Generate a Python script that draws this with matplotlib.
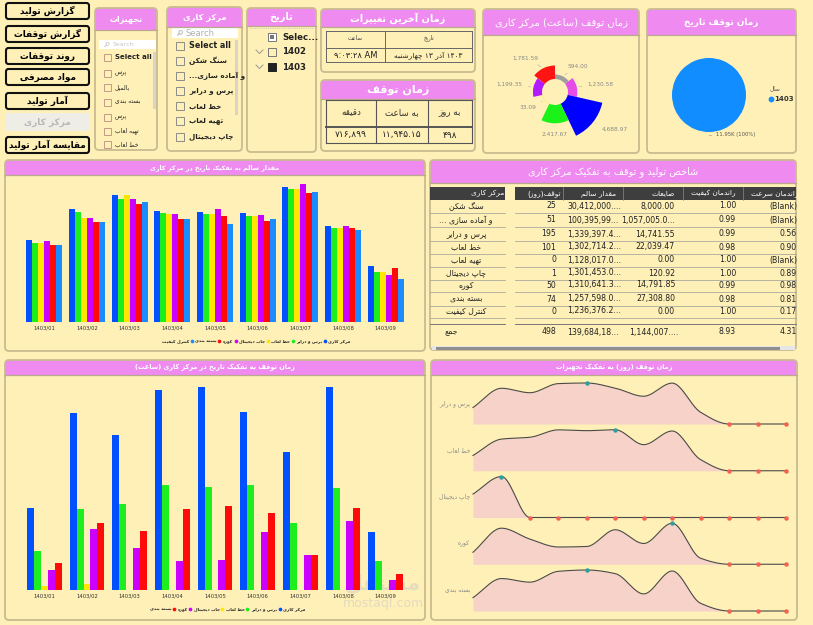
import re
import numpy as np
import matplotlib.pyplot as plt
from matplotlib.patches import FancyBboxPatch, Rectangle, Circle

# ---------------- data ----------------
months = ['1403/01', '1403/02', '1403/03', '1403/04', '1403/05',
          '1403/06', '1403/07', '1403/08', '1403/09']

good_names = ['پرس و درایر', 'خط لعاب', 'چاپ دیجیتال', 'کوره', 'بسته بندی', 'کنترل کیفیت']
good_press = [117300, 161000, 181500, 158200, 156300, 154900, 192400, 137300, 79800]
good_glaze = [113050, 157200, 175750, 154850, 153400, 151500, 190000, 134400, 71250]
good_digital = [113050, 148700, 181450, 154400, 153400, 151500, 190000, 134400, 71250]
good_kiln = [114950, 148700, 175750, 153900, 161500, 152950, 197100, 137300, 66950]
good_pack = [109700, 142500, 168150, 147250, 150600, 143450, 184300, 133950, 76950]
good_qc = [110200, 143000, 171500, 146300, 140100, 146300, 185700, 130600, 61750]

stop_names = ['پرس و درایر', 'خط لعاب', 'چاپ دیجیتال', 'کوره', 'بسته بندی']
stop_press = [275, 596, 522, 674, 684, 598, 463, 682, 195]
stop_glaze = [132, 274, 290, 354, 347, 355, 226, 344, 96]
stop_digital = [12, 21, 0, 0, 0, 0, 0, 0, 0]
stop_kiln = [68, 205, 143, 98, 101, 196, 118, 233, 34]
stop_pack = [92, 224, 199, 274, 283, 258, 118, 276, 53]
stop_late_months = [0, 0, 0]          # 1403/10 .. 1403/12

rose_names = ['سنگ شکن', 'و آماده سازی', 'پرس و درایر', 'خط لعاب', 'چاپ دیجیتال', 'کوره', 'بسته بندی']
rose_values = [594.00, 1230.58, 4688.97, 2417.67, 33.09, 1199.35, 1781.59]

pie_years = ['1403']
pie_values = [11945.15]

tbl_cols = ['مرکز کاری', 'توقف(روز)', 'مقدار سالم', 'ضایعات', 'راندمان کیفیت', 'راندمان سرعت']
tbl_centers = ['سنگ شکن', 'و آماده سازی ...', 'پرس و درایر', 'خط لعاب', 'تهیه لعاب',
               'چاپ دیجیتال', 'کوره', 'بسته بندی', 'کنترل کیفیت']
tbl_days = [25, 51, 195, 101, 0, 1, 50, 74, 0]
tbl_good = ['30,412,000....', '100,395,99...', '1,339,397.4...', '1,302,714.2...', '1,128,017.0...',
            '1,301,453.0...', '1,310,641.3...', '1,257,598.0...', '1,236,376.2...']
tbl_waste = ['8,000.00', '1,057,005.0...', '14,741.55', '22,039.47', '0.00',
             '120.92', '14,791.85', '27,308.80', '0.00']
tbl_qeff = ['1.00', '0.99', '0.99', '0.98', '1.00', '1.00', '0.99', '0.98', '1.00']
tbl_seff = ['(Blank)', '(Blank)', '0.56', '0.90', '(Blank)', '0.89', '0.98', '0.81', '0.17']
tbl_total = ['جمع', '498', '139,684,18...', '1,144,007....', '8.93', '4.31']

nav_labels = ['گزارش تولید', 'گزارش توقفات', 'روند توقفات', 'مواد مصرفی',
              'آمار تولید', 'مرکز کاری', 'مقایسه آمار تولید']
equip_items = ['Select all', 'پرس', 'بالمیل', 'بسته بندی', 'پرس', 'تهیه لعاب', 'خط لعاب']
center_items = ['Select all', 'سنگ شکن', 'و آماده سازی...', 'پرس و درایر', 'خط لعاب', 'تهیه لعاب', 'چاپ دیجیتال']
date_items = ['Selec...', '1402', '1403']

last_change_head = ['ساعت', 'تاریخ']
last_change_vals = ['۹:۰۳:۲۸ AM', 'چهارشنبه ۱۳ آذر ۱۴۰۳']
stop_card_head = ['دقیقه', 'به ساعت', 'به روز']
stop_card_vals = ['۷۱۶,۸۹۹', '۱۱,۹۴۵.۱۵', '۴۹۸']

# ---------------- persian shaping (no reshaper lib available) ----------------
AR = {'ا': (0xFE8D, 0), 'آ': (0xFE81, 0), 'ب': (0xFE8F, 1), 'پ': (0xFB56, 1), 'ت': (0xFE95, 1),
      'ث': (0xFE99, 1), 'ج': (0xFE9D, 1), 'چ': (0xFB7A, 1), 'ح': (0xFEA1, 1), 'خ': (0xFEA5, 1),
      'د': (0xFEA9, 0), 'ذ': (0xFEAB, 0), 'ر': (0xFEAD, 0), 'ز': (0xFEAF, 0), 'ژ': (0xFB8A, 0),
      'س': (0xFEB1, 1), 'ش': (0xFEB5, 1), 'ص': (0xFEB9, 1), 'ض': (0xFEBD, 1), 'ط': (0xFEC1, 1),
      'ظ': (0xFEC5, 1), 'ع': (0xFEC9, 1), 'غ': (0xFECD, 1), 'ف': (0xFED1, 1), 'ق': (0xFED5, 1),
      'ک': (0xFB8E, 1), 'گ': (0xFB92, 1), 'ل': (0xFEDD, 1), 'م': (0xFEE1, 1), 'ن': (0xFEE5, 1),
      'و': (0xFEED, 0), 'ه': (0xFEE9, 1), 'ی': (0xFBFC, 1)}
LTR_RUN = re.compile(r'[0-9A-Za-z\u06F0-\u06F9.,:%]+')


def shape(s):
    out, i = [], 0
    while i < len(s):
        c = s[i]
        prev = i > 0 and s[i - 1] in AR and AR[s[i - 1]][1] == 1
        if c == 'ل' and i + 1 < len(s) and s[i + 1] in 'اآ':
            base = 0xFEFB if s[i + 1] == 'ا' else 0xFEF5
            out.append(chr(base + (1 if prev else 0)))
            i += 2
            continue
        if c in AR:
            base, dual = AR[c]
            nxt = dual and i + 1 < len(s) and s[i + 1] in AR
            if dual:
                k = 3 if prev and nxt else 2 if nxt else 1 if prev else 0
            else:
                k = 1 if prev else 0
            out.append(chr(base + k))
        else:
            out.append(c)
        i += 1
    return ''.join(out)


def fa(s, rtl=True):
    if not any(ch in AR for ch in s):
        return s
    if not rtl:
        return ' '.join(fa(w) for w in s.split(' '))
    v = shape(s)[::-1].translate(str.maketrans('()', ')('))
    return LTR_RUN.sub(lambda m: m.group(0)[::-1], v)


# ---------------- figure ----------------
BG = '#FEF0B6'
PINK = '#EF8AF0'
EDGE = '#C9BB90'
plt.rcParams['font.family'] = ['DejaVu Sans']

fig = plt.figure(figsize=(8.13, 6.25), dpi=100, facecolor=BG)
bg = fig.add_axes([0, 0, 1, 1], zorder=0)
bg.set_xlim(0, 813)
bg.set_ylim(625, 0)
bg.axis('off')
renderer = fig.canvas.get_renderer()


def px_axes(x, y, w, h, **kw):
    a = fig.add_axes([x / 813, 1 - (y + h) / 625, w / 813, h / 625], zorder=2, **kw)
    a.patch.set_alpha(0)
    return a


def txt(x, y, s, size=6, color='#222222', ha='center', weight='normal', rtl=True, **kw):
    return bg.text(x, y, fa(s, rtl), fontsize=size, color=color, ha=ha, va='center',
                   fontweight=weight, **kw)


def panel(x, y, w, h, title, hh, size=7, weight='bold', r=4, ty=None):
    bs = f'round,pad=0,rounding_size={r}'
    bg.add_patch(FancyBboxPatch((x, y), w, h, boxstyle=bs, fc=PINK, ec='none'))
    bg.add_patch(FancyBboxPatch((x, y + hh), w, h - hh, boxstyle=bs, fc=BG, ec='none'))
    bg.add_patch(Rectangle((x, y + hh), w, r + 1, fc=BG, ec='none'))
    bg.plot([x, x + w], [y + hh, y + hh], color='#BBA98C', lw=0.9)
    bg.add_patch(FancyBboxPatch((x, y), w, h, boxstyle=bs, fc='none', ec=EDGE, lw=1.3))
    txt(x + w / 2, ty if ty else y + hh / 2, title, size=size, color='white', weight=weight)


def rtl_legend(left, y, title, names, colors, size=3.1):
    # power bi rtl legend: last item on the left, title on the far right
    xcur = left
    for name, col in reversed(list(zip(names, colors))):
        t = txt(xcur, y, name, size=size, ha='left', weight='bold')
        xcur += t.get_window_extent(renderer).width + 2.5
        bg.scatter([xcur], [y], s=7, color=col, zorder=3, lw=0)
        xcur += 3.5
    txt(xcur, y, title, size=size, ha='left', weight='bold')


def magnifier(x, y, r=1.8, color='#B0B0B0'):
    bg.add_patch(Circle((x + 0.6, y - 0.6), r, fc='none', ec=color, lw=0.6))
    bg.plot([x - 0.7, x - 2.2], [y + 0.7, y + 2.2], color=color, lw=0.7)


# ---- nav buttons
nav_y = [3, 26, 48, 69, 93, 114, 137]
for i, (lab, y) in enumerate(zip(nav_labels, nav_y)):
    if i == 5:
        bg.add_patch(Rectangle((6, y - 1), 83, 18, fc='#EEEDE6', ec='none'))
        txt(47.5, y + 8, lab, size=6.4, color='#B8B8B8', weight='bold')
    else:
        bg.add_patch(FancyBboxPatch((6, y), 83, 16, boxstyle='round,pad=0,rounding_size=2.5',
                                    fc=BG, ec='#111111', lw=1.5))
        txt(47.5, y + 8, lab, size=6.4, color='black', weight='bold')

# ---- slicer: equipment
panel(95, 8, 62, 142, 'تجهیزات', 22, size=5.8)
bg.add_patch(Rectangle((99, 40), 57, 9, fc='white', ec='none'))
magnifier(107, 44.5, r=1.5, color='#C8C8C8')
txt(113, 44.5, 'Search', size=4.5, color='#C8C8C8', ha='left')
bg.add_patch(Rectangle((153, 52), 2.5, 57, fc='#D9D4C4', ec='none'))
for lab, y in zip(equip_items, [57, 73, 87, 102, 117, 131, 144]):
    bg.add_patch(Rectangle((104, y - 3.5), 7, 7, fc='none', ec='#C49A86', lw=0.7))
    bold = 'bold' if lab == 'Select all' else 'normal'
    txt(115, y, lab, size=5 if bold == 'bold' else 4.3, ha='left', weight=bold, color='#222222')

# ---- slicer: work center
panel(167, 7, 75, 144, 'مرکز کاری', 20, size=6)
bg.add_patch(Rectangle((172, 28), 66, 10, fc='white', ec='none'))
magnifier(180, 33)
txt(185, 33, 'Search', size=6, color='#B0B0B0', ha='left')
bg.add_patch(Rectangle((235, 40), 2.5, 75, fc='#D9D4C4', ec='none'))
for lab, y in zip(center_items, [46, 61, 76, 91, 106, 121, 137]):
    bg.add_patch(Rectangle((176, y - 4), 8, 8, fc='none', ec='#8A8A8A', lw=0.7))
    txt(189, y, lab, size=5.8 if lab == 'Select all' else 5.2, ha='left', weight='bold')

# ---- slicer: date
panel(247, 8, 69, 144, 'تاریخ', 18, size=7)
bg.plot([250, 313], [28, 28], color='#BBBBBB', lw=0.6, ls=':')
for lab, y, k in zip(date_items, [37, 52, 67], range(3)):
    if k == 0:
        bg.add_patch(Rectangle((268, y - 4), 8, 8, fc='white', ec='#777777', lw=0.7))
        bg.add_patch(Rectangle((270, y - 2), 4, 4, fc='#777777', ec='none'))
    elif k == 1:
        bg.add_patch(Rectangle((268, y - 4), 8, 8, fc='none', ec='#777777', lw=0.7))
    else:
        bg.add_patch(Rectangle((268, y - 4), 8, 8, fc='#222222', ec='#222222', lw=0.7))
    if k > 0:
        bg.plot([256, 259.5, 263], [y - 2, y + 1.5, y - 2], color='#999999', lw=0.7)
    txt(282, y, lab, size=6.2, ha='left', weight='bold')

# ---- card: last change
panel(321, 9, 154, 63, 'زمان آخرین تغییرات', 18, size=7)
for yy in (31, 48, 62):
    bg.plot([326, 472], [yy, yy], color='#666666', lw=0.7)
for xx in (326, 385, 472):
    bg.plot([xx, xx], [31, 62], color='#666666', lw=0.7)
txt(355.5, 38, last_change_head[0], size=4, color='#444444')
txt(428.5, 38, last_change_head[1], size=4, color='#444444')
txt(355.5, 55, last_change_vals[0], size=6, color='#222222')
txt(428.5, 55.5, last_change_vals[1], size=5.3, color='#222222', rtl=False)

# ---- card: stop time
panel(321, 80, 154, 71, 'زمان توقف', 19, size=8)
for yy in (100, 127, 143):
    bg.plot([326, 472], [yy, yy], color='#555555', lw=0.8 if yy != 127 else 1.4)
for xx in (326, 376, 428, 472):
    bg.plot([xx, xx], [100, 143], color='#555555', lw=0.8)
for lab, val, cx in zip(stop_card_head, stop_card_vals, [351, 402, 450]):
    txt(cx, 113, lab, size=6.3, color='#333333')
    txt(cx, 135, val, size=6.5, color='#222222')

# ---- rose chart: stop hours by work center
panel(483, 9, 156, 144, 'زمان توقف (ساعت) مرکز کاری', 26, size=7.2, weight='normal')
rose_colors = ['#9E9E9E', '#E64CE6', '#0000FF', '#1AF21A', '#FFE600', '#B21AFF', '#FF1414']
PXH = 132.0                     # hours per pixel of radius
ra = px_axes(555 - 64, 92 - 64, 128, 128, projection='polar')
ra.set_theta_zero_location('N')
ra.set_theta_direction(-1)
ra.set_ylim(0, 64 * PXH)
ra.set_axis_off()
n = len(rose_values)
theta = np.arange(n) * 2 * np.pi / n + np.pi / n
ra.bar(theta, rose_values, width=2 * np.pi / n, bottom=13 * PXH, color=rose_colors, lw=0)
for th, v in zip(theta, rose_values):
    r_out = 13 * PXH + v
    side = 'left' if np.sin(th) > 0.05 else 'right' if np.sin(th) < -0.05 else 'center'
    ra.annotate(f'{v:,.2f}', xy=(th, r_out), xytext=(th, r_out + 11 * PXH),
                fontsize=4.2, color='#8A8A8A', ha=side, va='center', annotation_clip=False,
                arrowprops=dict(arrowstyle='-', color='#BBBBBB', lw=0.5))

# ---- pie: stop by year
panel(647, 9, 149, 144, 'زمان توقف تاریخ', 26, size=6.4)
pa = px_axes(709 - 37, 95 - 37, 74, 74)
pa.pie(pie_values, colors=['#118DFF'], startangle=90, wedgeprops=dict(lw=0))
pa.set_xlim(-1, 1)
pa.set_ylim(-1, 1)
pa.annotate(f'{pie_values[0] / 1000:.2f}K (100%)', xy=(0, -1), xytext=(0.2, -1.08),
            fontsize=3.8, color='#555555', ha='left', va='center', annotation_clip=False,
            arrowprops=dict(arrowstyle='-', color='#999999', lw=0.5,
                            connectionstyle='angle,angleA=0,angleB=90'))
txt(770, 88, 'سال', size=4.2, color='#555555', ha='left')
bg.scatter([770.5], [99], s=10, color='#118DFF', zorder=3)
txt(774, 99, pie_years[0], size=5, color='#333333', ha='left', weight='bold')

# ---- bar chart 1: good quantity
panel(5, 160, 420, 191, 'مقدار سالم به تفکیک تاریخ در مرکز کاری', 15, size=4.6)
c_blue, c_green, c_yellow, c_purple, c_red, c_lblue = \
    '#0050FF', '#1EEE1E', '#FFE600', '#CC00FF', '#FF0A0A', '#1A8CFF'
good_series = [good_press, good_glaze, good_digital, good_kiln, good_pack, good_qc]
good_colors = [c_blue, c_green, c_yellow, c_purple, c_red, c_lblue]
b1 = px_axes(23, 176, 384, 146)
x = np.arange(len(months))
w = 6 / 42.67
for i, (vals, col) in enumerate(zip(good_series, good_colors)):
    b1.bar(x + (i - 2.5) * w, vals, width=w, color=col, lw=0)
b1.set_xlim(-0.5, len(months) - 0.5)
b1.set_ylim(0, 146 * 1425)
b1.set_xticks(x)
b1.set_xticklabels(months, fontsize=3.8, color='#333333')
b1.tick_params(axis='x', length=0, pad=2.5)
b1.set_yticks([])
for sp in b1.spines.values():
    sp.set_visible(False)
rtl_legend(162, 341, 'مرکز کاری', good_names, good_colors)

# ---- table
panel(430, 160, 366, 190, 'شاخص تولید و توقف به تفکیک مرکز کاری', 23, size=7, weight='normal')
bg.add_patch(Rectangle((430, 187), 75, 13, fc='#3E3E3E', ec='none'))
bg.add_patch(Rectangle((515, 187), 281, 13, fc='#3E3E3E', ec='none'))
for xx in (563, 623, 683, 743):
    bg.plot([xx, xx], [187, 200], color='#8A8A8A', lw=0.5)
head_x = [504, 561, 616, 675, 736, 798]
for lab, hx in zip(tbl_cols, head_x):
    txt(hx, 193.5, lab, size=5.3, color='white', ha='right')
row_y = [206, 220, 234, 247, 260, 273, 285, 299, 311]
for i, y in enumerate(row_y):
    txt(466, y, tbl_centers[i], size=5.6)
    txt(556, y, str(tbl_days[i]), size=5.6, ha='right')
    txt(567, y, tbl_good[i], size=5.6, ha='left')
    txt(675, y, tbl_waste[i], size=5.6, ha='right')
    txt(736, y, tbl_qeff[i], size=5.6, ha='right')
    txt(797, y, tbl_seff[i], size=5.6, ha='right')
    for seg in ((430, 505), (515, 796)):
        bg.plot(seg, [y + 6.5, y + 6.5], color='#9A9A9A', lw=0.5)
for seg in ((430, 505), (515, 796)):
    bg.plot(seg, [324, 324], color='#777777', lw=0.7)
ty = 332
txt(451, ty, tbl_total[0], size=5.6)
txt(556, ty, tbl_total[1], size=5.6, ha='right')
txt(567, ty, tbl_total[2], size=5.6, ha='left')
txt(629, ty, tbl_total[3], size=5.6, ha='left')
txt(736, ty, tbl_total[4], size=5.6, ha='right')
txt(797, ty, tbl_total[5], size=5.6, ha='right')
bg.add_patch(Rectangle((432, 346), 363, 4, fc='#E6E6E6', ec='none'))
bg.add_patch(Rectangle((436, 346.5), 344, 3, fc='#8E8E8E', ec='none'))

# ---- bar chart 2: stop hours
panel(5, 360, 420, 260, 'زمان توقف به تفکیک تاریخ در مرکز کاری (ساعت)', 15, size=4.7)
stop_series = [stop_press, stop_glaze, stop_digital, stop_kiln, stop_pack]
stop_colors = [c_blue, c_green, c_yellow, c_purple, c_red]
b2 = px_axes(23, 378, 384, 212)
w2 = 7 / 42.67
for i, (vals, col) in enumerate(zip(stop_series, stop_colors)):
    b2.bar(x + (i - 2) * w2, vals, width=w2, color=col, lw=0)
b2.set_xlim(-0.5, len(months) - 0.5)
b2.set_ylim(0, 212 * 3.366)
b2.set_xticks(x)
b2.set_xticklabels(months, fontsize=3.8, color='#333333')
b2.tick_params(axis='x', length=0, pad=2.5)
b2.set_yticks([])
for sp in b2.spines.values():
    sp.set_visible(False)
rtl_legend(150, 609, 'مرکز کاری', stop_names, stop_colors)

# ---- ridge chart: stop days per equipment


def monotone(xp, yp, k=24):
    xp = np.asarray(xp, float)
    yp = np.asarray(yp, float)
    h = np.diff(xp)
    d = np.diff(yp) / h
    m = np.zeros_like(yp)
    m[0], m[-1] = d[0], d[-1]
    for j in range(1, len(yp) - 1):
        if d[j - 1] * d[j] > 0:
            m[j] = 3 * (h[j - 1] + h[j]) / ((2 * h[j] + h[j - 1]) / d[j - 1] + (h[j] + 2 * h[j - 1]) / d[j])
    xs, ys = [], []
    t = np.linspace(0, 1, k, endpoint=False)
    for j in range(len(h)):
        xs.append(xp[j] + t * h[j])
        ys.append((2 * t**3 - 3 * t**2 + 1) * yp[j] + (t**3 - 2 * t**2 + t) * h[j] * m[j]
                  + (-2 * t**3 + 3 * t**2) * yp[j + 1] + (t**3 - t**2) * h[j] * m[j + 1])
    xs.append([xp[-1]])
    ys.append([yp[-1]])
    return np.concatenate(xs), np.concatenate(ys)


panel(431, 360, 366, 260, 'زمان توقف (روز) به تفکیک تجهیزات', 15, size=4.7)
ridge_months = np.arange(1, 13)
for i, (name, hrs) in enumerate(zip(stop_names, stop_series)):
    days = np.array(list(hrs) + stop_late_months) / 24.0
    yb = 424 + 46.75 * i
    ax = px_axes(473, yb - 44, 313, 44)
    xs, ys = monotone(ridge_months, days)
    ax.fill_between(xs, ys, 0, color='#F6D2C8', lw=0)
    ax.plot(xs, ys, color='#4A4A4A', lw=0.8, clip_on=False)
    lo = days == days.min()
    hi = days == days.max()
    ax.plot(ridge_months[lo], days[lo], 'o', ms=3.2, color='#F5604F', mec='none', clip_on=False)
    ax.plot(ridge_months[hi], days[hi], 'o', ms=3.2, color='#2E9E9E', mec='none', clip_on=False)
    ax.set_xlim(1, 12)
    ax.set_ylim(0, days.max() * 44 / 41)
    ax.axis('off')
    txt(470, yb - 20.5, name, size=4.3, color='#8A8A8A', ha='right')

# watermark
txt(383, 583, 'مستقل', size=15, color='#C8C8C8', weight='bold', alpha=0.45)
txt(383, 604, 'mostaql.com', size=9, color='#C8C8C8', alpha=0.5)

fig.savefig('out.png', dpi=100, facecolor=BG)
